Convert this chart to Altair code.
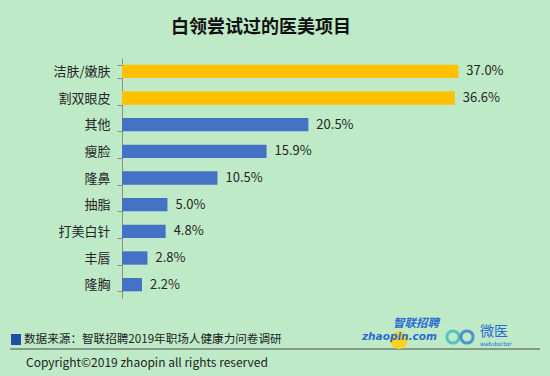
import altair as alt
import pandas as pd

categories = ["洁肤/嫩肤", "割双眼皮", "其他", "瘦脸", "隆鼻", "抽脂", "打美白针", "丰唇", "隆胸"]
values = [37.0, 36.6, 20.5, 15.9, 10.5, 5.0, 4.8, 2.8, 2.2]
highlight = ["top", "top", "rest", "rest", "rest", "rest", "rest", "rest", "rest"]

title_text = "白领尝试过的医美项目"
source_text = "数据来源：智联招聘2019年职场人健康力问卷调研"
copyright_text = "Copyright©2019 zhaopin all rights reserved"

FONT = "Noto Sans CJK SC"
BG = "#BEEAC8"

df = pd.DataFrame({"cat": categories, "val": values, "grp": highlight})
df["label"] = [f"{v:.1f}%" for v in values]

W, H = 400, 240

y_enc = alt.Y("cat:N", sort=categories, title=None,
              scale=alt.Scale(paddingInner=0.5, paddingOuter=0.25),
              axis=alt.Axis(domainColor="#8c8c8c", tickColor="#8c8c8c", tickSize=5,
                            tickBand="extent", labelFont=FONT, labelFontSize=13,
                            labelColor="#262626", labelPadding=7, grid=False))
x_enc = alt.X("val:Q", scale=alt.Scale(domain=[0, 44]), axis=None)

base = alt.Chart(df)
bars = base.mark_bar().encode(
    x=x_enc, y=y_enc,
    color=alt.Color("grp:N", scale=alt.Scale(domain=["top", "rest"], range=["#FFC000", "#4472C4"]), legend=None),
)
labels = base.mark_text(align="left", baseline="middle", dx=8, font=FONT, fontSize=13, color="#262626").encode(
    x=x_enc, y=alt.Y("cat:N", sort=categories), text="label:N"
)

one = pd.DataFrame({"t": [0]})
title = alt.Chart(one).mark_text(text=title_text, font=FONT, fontSize=18, fontWeight="bold",
                                 color="#111111", align="center", baseline="middle").encode(
    x=alt.value(139), y=alt.value(-30))
square = alt.Chart(one).mark_rect(color="#1F4FA8").encode(
    x=alt.value(-111), x2=alt.value(-101), y=alt.value(276), y2=alt.value(287))
source = alt.Chart(one).mark_text(text=source_text, font=FONT, fontSize=11.6, color="#222222",
                                  align="left", baseline="middle").encode(
    x=alt.value(-98), y=alt.value(282))
sep = alt.Chart(one).mark_rule(color="#4a4a4a", strokeWidth=1).encode(
    x=alt.value(-112), x2=alt.value(418), y=alt.value(291))
copyr = alt.Chart(one).mark_text(text=copyright_text, font=FONT, fontSize=12, color="#222222",
                                 align="left", baseline="middle").encode(
    x=alt.value(-96), y=alt.value(305))

# logos (approximate)
circle = alt.Chart(one).mark_circle(color="#FFD21F", size=320, opacity=1).encode(
    x=alt.value(277), y=alt.value(282))
zp_cn = alt.Chart(one).mark_text(text="智联招聘", font=FONT, fontSize=11.5, fontWeight="bold",
                                 fontStyle="italic", color="#2A6BD0", align="left", baseline="middle").encode(
    x=alt.value(271), y=alt.value(266))
zp_en = alt.Chart(one).mark_text(text="zhaopin.com", font="DejaVu Sans", fontSize=10.5, fontWeight="bold",
                                 fontStyle="italic", color="#2A6BD0", align="left", baseline="middle").encode(
    x=alt.value(240), y=alt.value(279))
ring1 = alt.Chart(one).mark_point(shape="circle", size=150, strokeWidth=3, color="#2BB3C0", filled=False).encode(
    x=alt.value(331), y=alt.value(279))
ring2 = alt.Chart(one).mark_point(shape="circle", size=150, strokeWidth=3, color="#2A6BD0", filled=False).encode(
    x=alt.value(345), y=alt.value(279))
wy = alt.Chart(one).mark_text(text="微医", font=FONT, fontSize=14, color="#2A6BD0",
                              align="left", baseline="middle").encode(
    x=alt.value(358), y=alt.value(274))
wd = alt.Chart(one).mark_text(text="webdoctor", font="DejaVu Sans", fontSize=6, color="#2A6BD0",
                              align="left", baseline="middle").encode(
    x=alt.value(358), y=alt.value(286))

chart = alt.layer(bars, labels, title, square, source, sep, copyr, circle, zp_cn, zp_en,
                  ring1, ring2, wy, wd).properties(
    width=W, height=H,
    autosize=alt.AutoSizeParams(type="none"),
    padding={"left": 122, "top": 58, "right": 28, "bottom": 78},
).configure(background=BG).configure_view(stroke=None)

chart.save("out.html", embed_options={"renderer": "svg", "actions": False})
